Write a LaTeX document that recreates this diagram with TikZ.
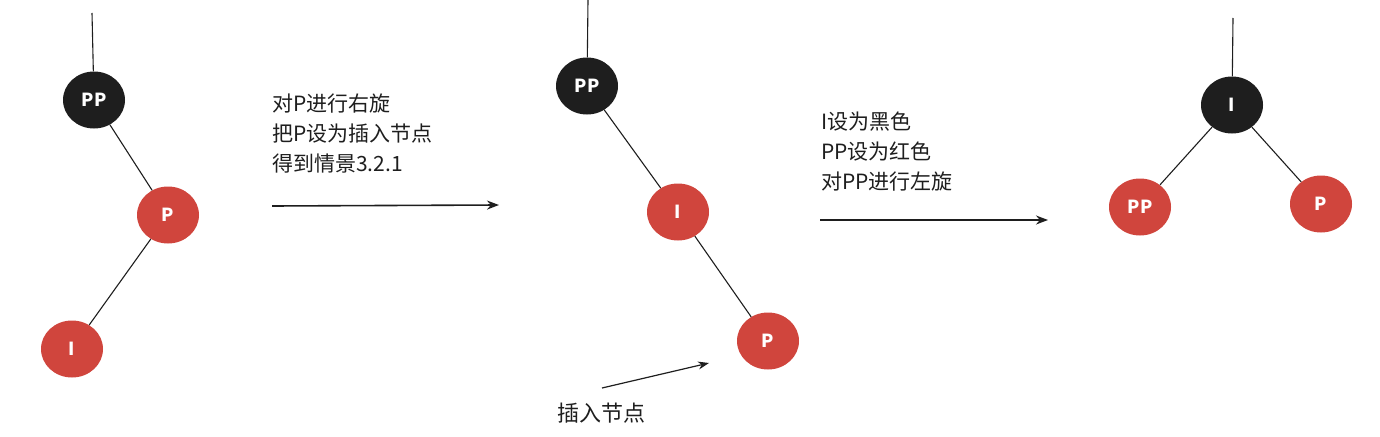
\documentclass[tikz,border=0pt]{standalone}
\usepackage{fontspec}
\setmainfont{Noto Sans CJK SC}
\usetikzlibrary{shapes.geometric,arrows.meta}
\definecolor{rbred}{RGB}{208,69,61}
\definecolor{rbblack}{RGB}{30,30,30}
\definecolor{txt}{RGB}{30,30,30}
\tikzset{
  x=1pt,y=-1pt,
  rbnode/.style={ellipse,minimum width=62pt,minimum height=57pt,inner sep=0pt,text=white,font=\fontsize{18}{18}\selectfont\bfseries},
  rednode/.style={rbnode,fill=rbred},
  blacknode/.style={rbnode,fill=rbblack},
  edge/.style={draw=rbblack,line width=1.1pt},
  arr/.style={draw=rbblack,line width=1.6pt,-{Stealth[length=12pt,width=9pt]}},
  desc/.style={anchor=west,align=left,inner sep=0pt,text=txt,font=\fontsize{21}{30}\selectfont},
}
\begin{document}
\begin{tikzpicture}
\useasboundingbox (0,0) rectangle (1380,436);
% tree 1
\coordinate (t1) at (92,13);
\node[blacknode] (pp1) at (94,100) {PP};
\node[rednode] (p1) at (168,215) {P};
\node[rednode] (i1) at (72,349) {I};
\draw[edge] (t1) -- (pp1);
\draw[edge] (pp1) -- (p1);
\draw[edge] (p1) -- (i1);
% step 1
\node[desc] (d1) at (272,134) {对P进行右旋\\把P设为插入节点\\得到情景3.2.1};
\coordinate (a1s) at (272,206);
\coordinate (a1e) at (499,205);
\draw[arr] (a1s) -- (a1e);
% tree 2
\coordinate (t2) at (588,0);
\node[blacknode] (pp2) at (587,86) {PP};
\node[rednode] (i2) at (678,212) {I};
\node[rednode] (p2) at (768,341) {P};
\draw[edge] (t2) -- (pp2);
\draw[edge] (pp2) -- (i2);
\draw[edge] (i2) -- (p2);
\coordinate (a3s) at (602,388);
\coordinate (a3e) at (709,363);
\draw[draw=rbblack,line width=1.2pt,-{Stealth[length=11pt,width=8pt]}] (a3s) -- (a3e);
\node[inner sep=0pt,text=txt,font=\fontsize{22}{22}\selectfont] (lab) at (601,413) {插入节点};
% step 2
\node[desc] (d2) at (821,152) {I设为黑色\\PP设为红色\\对PP进行左旋};
\coordinate (a2s) at (820,220);
\coordinate (a2e) at (1048,220);
\draw[arr] (a2s) -- (a2e);
% tree 3
\coordinate (t3) at (1233,18);
\node[blacknode] (i3) at (1232,105) {I};
\node[rednode] (pp3) at (1140,207) {PP};
\node[rednode] (p3) at (1321,204) {P};
\draw[edge] (t3) -- (i3);
\draw[edge] (i3) -- (pp3);
\draw[edge] (i3) -- (p3);
\end{tikzpicture}
\end{document}
